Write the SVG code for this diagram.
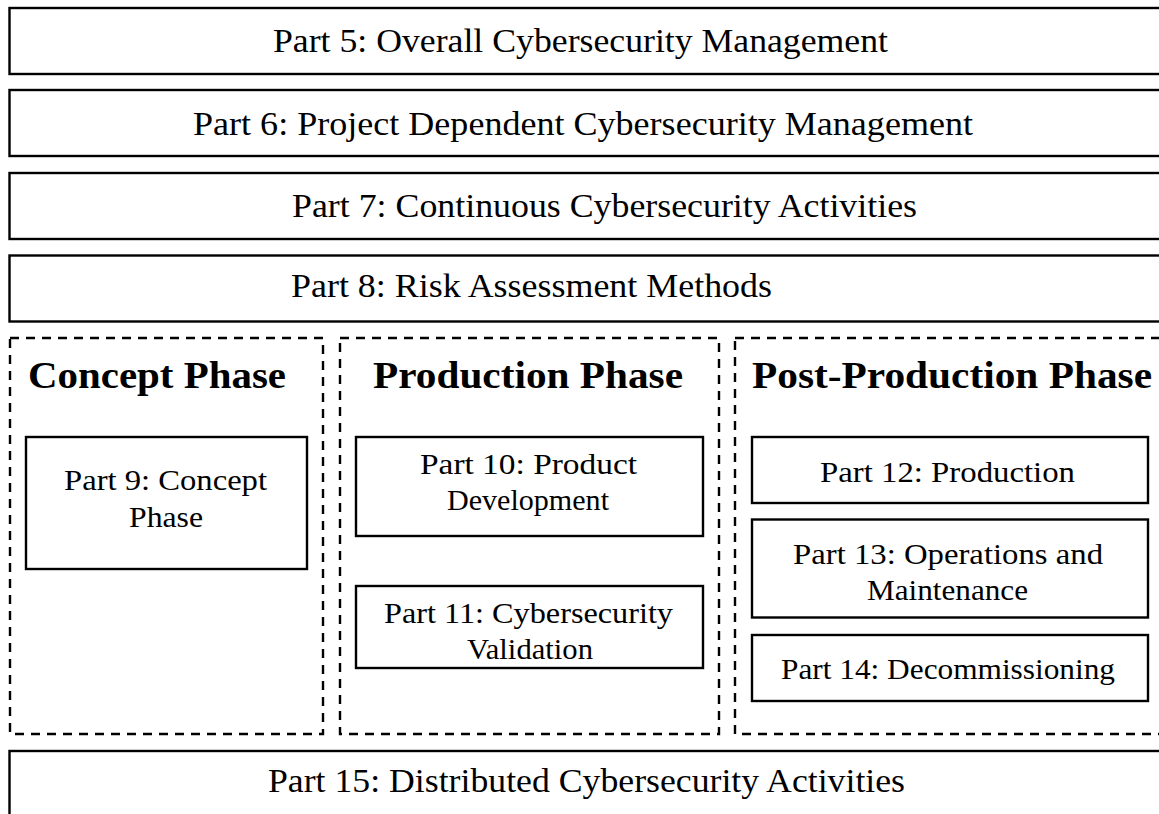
<svg xmlns="http://www.w3.org/2000/svg" width="1159" height="814" viewBox="0 0 1159 814">
<style>
.box{fill:#fff;stroke:#000;stroke-width:2.4}
.dash{fill:none;stroke:#000;stroke-width:2.4;stroke-dasharray:9 7}
.t{font-family:"Liberation Serif","Times New Roman",serif;fill:#000}
.big{font-size:34px}
.mid{font-size:30px}
.ttl{font-size:37px;font-weight:bold}
</style>
<rect width="1159" height="814" fill="#fff"/>
<g id="part5">
<rect class="box" x="9.5" y="8" width="1170" height="66"/>
<text class="t big" x="273" y="52" textLength="615" lengthAdjust="spacingAndGlyphs">Part 5: Overall Cybersecurity Management</text>
</g>
<g id="part6">
<rect class="box" x="9.5" y="90" width="1170" height="66"/>
<text class="t big" x="193" y="135" textLength="780" lengthAdjust="spacingAndGlyphs">Part 6: Project Dependent Cybersecurity Management</text>
</g>
<g id="part7">
<rect class="box" x="9.5" y="173" width="1170" height="66"/>
<text class="t big" x="292" y="216.5" textLength="625" lengthAdjust="spacingAndGlyphs">Part 7: Continuous Cybersecurity Activities</text>
</g>
<g id="part8">
<rect class="box" x="9.5" y="255.5" width="1170" height="66"/>
<text class="t big" x="291" y="297" textLength="481" lengthAdjust="spacingAndGlyphs">Part 8: Risk Assessment Methods</text>
</g>
<g id="concept-phase">
<rect class="dash" x="10" y="338" width="313" height="396"/>
<text class="t ttl" x="28" y="388" textLength="258" lengthAdjust="spacingAndGlyphs">Concept Phase</text>
</g>
<g id="production-phase">
<rect class="dash" x="340" y="338" width="379" height="396"/>
<text class="t ttl" x="373" y="388" textLength="310" lengthAdjust="spacingAndGlyphs">Production Phase</text>
</g>
<g id="post-production-phase">
<rect class="dash" x="735" y="338" width="450" height="396"/>
<text class="t ttl" x="752" y="388" textLength="400" lengthAdjust="spacingAndGlyphs">Post-Production Phase</text>
</g>
<g id="part9">
<rect class="box" x="26" y="437" width="281" height="132"/>
<text class="t mid" x="64" y="490" textLength="203" lengthAdjust="spacingAndGlyphs">Part 9: Concept</text>
<text class="t mid" x="129" y="527" textLength="74" lengthAdjust="spacingAndGlyphs">Phase</text>
</g>
<g id="part10">
<rect class="box" x="356" y="437" width="347" height="99"/>
<text class="t mid" x="420" y="474" textLength="217" lengthAdjust="spacingAndGlyphs">Part 10: Product</text>
<text class="t mid" x="447" y="510" textLength="162" lengthAdjust="spacingAndGlyphs">Development</text>
</g>
<g id="part11">
<rect class="box" x="356" y="586" width="347" height="82"/>
<text class="t mid" x="384" y="623" textLength="289" lengthAdjust="spacingAndGlyphs">Part 11: Cybersecurity</text>
<text class="t mid" x="467" y="659" textLength="126" lengthAdjust="spacingAndGlyphs">Validation</text>
</g>
<g id="part12">
<rect class="box" x="752" y="437" width="396" height="66"/>
<text class="t mid" x="820" y="482" textLength="255" lengthAdjust="spacingAndGlyphs">Part 12: Production</text>
</g>
<g id="part13">
<rect class="box" x="752" y="519.5" width="396" height="98"/>
<text class="t mid" x="793" y="564" textLength="310" lengthAdjust="spacingAndGlyphs">Part 13: Operations and</text>
<text class="t mid" x="867" y="600" textLength="161" lengthAdjust="spacingAndGlyphs">Maintenance</text>
</g>
<g id="part14">
<rect class="box" x="752" y="635" width="396" height="66"/>
<text class="t mid" x="781" y="679" textLength="334" lengthAdjust="spacingAndGlyphs">Part 14: Decommissioning</text>
</g>
<g id="part15">
<rect class="box" x="9.5" y="751" width="1170" height="66"/>
<text class="t big" x="268" y="792" textLength="637" lengthAdjust="spacingAndGlyphs">Part 15: Distributed Cybersecurity Activities</text>
</g>
<g id="connectors"/>
</svg>
